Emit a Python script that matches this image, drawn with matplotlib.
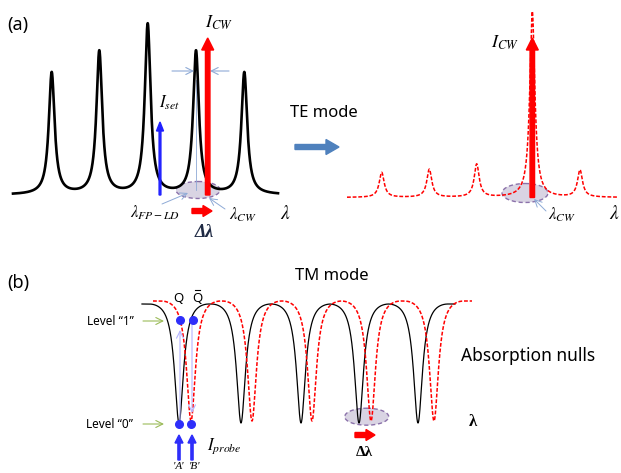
import numpy as np
import matplotlib.pyplot as plt
from matplotlib.patches import Ellipse

plt.rcParams['mathtext.fontset'] = 'stix'
plt.rcParams['font.family'] = ['Noto Sans', 'DejaVu Sans']

# panel (a) left: FP-LD modes (centre, height above baseline)
fp_x = [51.7, 99.3, 147.7, 196.0, 244.3]
fp_h = [122, 143, 170, 143, 122]
fp_base = 195

# panel (a) right: after injection locking (TE mode)
te_x = [381.7, 429.3, 476.7, 532.3, 580.0]
te_h = [25, 28, 33, 186, 27]
te_base = 197.5

# panel (b): absorption nulls (TM mode)
tm_black_dips = [179, 241, 301, 359, 418]
tm_red_dips = [191, 252, 312, 371, 434]


def lorentz_sum(x, centres, heights, w):
    y = np.zeros_like(x)
    for c, h in zip(centres, heights):
        y += h * w ** 2 / ((x - c) ** 2 + w ** 2)
    return y


def dip_curve(x, dips, top, bottom, period=60, F=12):
    d = np.min(np.abs(x[:, None] - np.array(dips)[None, :]), axis=1)
    d = np.minimum(d, period / 2)
    g = 1 / (1 + F * np.sin(np.pi * d / period) ** 2)
    gmin = 1 / (1 + F)
    return top + (bottom - top) * (g - gmin) / (1 - gmin)


def arrow(x0, y0, x1, y1, color, lw=0.8, hl=5, hw=2.5):
    ax.annotate('', xy=(x1, y1), xytext=(x0, y0),
                arrowprops=dict(arrowstyle=f'->,head_length={hl / 10},head_width={hw / 10}',
                                color=color, lw=lw, shrinkA=0, shrinkB=0))


fig = plt.figure(figsize=(6.21, 4.73), dpi=100)
ax = fig.add_axes([0, 0, 1, 1])
ax.set_xlim(0, 621)
ax.set_ylim(473, 0)
ax.axis('off')

red = '#ff0000'
ell_face = '#d5d0e0'
ell_edge = '#8064a2'
pale = '#8eaad6'

# ---------- (a) left ----------
x = np.linspace(13, 278, 2000)
ax.plot(x, fp_base - lorentz_sum(x, fp_x, fp_h, 3.5), color='black', lw=1.9, zorder=3)
ax.add_patch(Ellipse((198, 190), 44, 17, facecolor=ell_face, edgecolor=ell_edge,
                     ls=(0, (3, 2)), lw=1, alpha=0.9, zorder=1))
ax.plot([196, 196], [80, 190], color=pale, lw=0.6, zorder=2)
ax.arrow(207.7, fp_base, 0, 38 - fp_base, width=4.5, head_width=12, head_length=12,
         length_includes_head=True, color=red, zorder=4)
ax.arrow(160, fp_base, 0, 122 - fp_base, width=1.8, head_width=7, head_length=9,
         length_includes_head=True, color='#2020ff', zorder=4)
arrow(172, 71, 194, 71, pale)
arrow(229, 71, 210, 71, pale)
arrow(162, 204, 188, 193, pale, lw=0.7)
arrow(225, 209, 209, 198, pale, lw=0.7)
ax.arrow(192, 211, 20, 0, width=5, head_width=11, head_length=9,
         length_includes_head=True, color=red, zorder=4)
ax.text(219, 23, r'$I_{CW}$', fontsize=13, ha='center', va='center')
ax.text(169, 103, r'$I_{set}$', fontsize=12, ha='center', va='center')
ax.text(155, 213, r'$\lambda_{FP-LD}$', fontsize=12, ha='center', va='center')
ax.text(243, 215, r'$\lambda_{CW}$', fontsize=12, ha='center', va='center')
ax.text(285, 214, r'$\lambda$', fontsize=14, ha='center', va='center')
ax.text(204, 232, 'Δλ', fontsize=13, ha='center', va='center', family='Liberation Serif',
        style='italic', weight='bold', color='#1f2a44')
ax.text(7, 25, '(a)', fontsize=13, ha='left', va='center')

# arrow between panels
ax.text(324, 113, 'TE mode', fontsize=12, ha='center', va='center')
ax.arrow(295, 147, 44, 0, width=5, head_width=15, head_length=13,
         length_includes_head=True, color='#4f81bd')

# ---------- (a) right ----------
x = np.linspace(347, 617, 2000)
ax.add_patch(Ellipse((525, 193), 46, 19, facecolor=ell_face, edgecolor=ell_edge,
                     ls=(0, (3, 2)), lw=1, alpha=0.9, zorder=1))
ax.arrow(532.3, te_base, 0, 38 - te_base, width=4.5, head_width=12, head_length=12,
         length_includes_head=True, color=red, zorder=3)
ax.plot(x, te_base - lorentz_sum(x, te_x, te_h, 3.0), color=red, lw=1.1,
        dashes=(2.5, 1.2), zorder=4)
arrow(546, 211, 534, 199, pale, lw=0.7)
ax.text(505, 43, r'$I_{CW}$', fontsize=13, ha='center', va='center')
ax.text(562, 215, r'$\lambda_{CW}$', fontsize=12, ha='center', va='center')
ax.text(609, 214, r'$\lambda$', fontsize=14, ha='left', va='center')

# ---------- (b) ----------
ax.text(7, 283, '(b)', fontsize=13, ha='left', va='center')
ax.text(332, 276, 'TM mode', fontsize=12, ha='center', va='center')
ax.text(528, 356, 'Absorption nulls', fontsize=12.5, ha='center', va='center')

x = np.linspace(142, 455, 2000)
ax.plot(x, dip_curve(x, tm_black_dips, 304, 423), color='black', lw=0.9, zorder=3)
x = np.linspace(153, 472, 2000)
ax.plot(x, dip_curve(x, tm_red_dips, 301, 421), color=red, lw=1.1,
        dashes=(2.5, 1.2), zorder=3)

ax.add_patch(Ellipse((366.7, 416.7), 44, 17, facecolor=ell_face, edgecolor=ell_edge,
                     ls=(0, (3, 2)), lw=1, alpha=0.9, zorder=1))
ax.arrow(355, 435, 20, 0, width=5, head_width=11, head_length=9,
         length_includes_head=True, color=red, zorder=4)
ax.text(364, 452, 'Δλ', fontsize=11, ha='center', va='center', family='Liberation Serif',
        weight='bold')
ax.text(473, 422, 'λ', fontsize=12, ha='center', va='center', family='Liberation Serif',
        weight='bold')

# probe transitions
lav = '#b4b4ff'
arrow(180, 422, 180, 330, lav, lw=0.8)
arrow(192, 322, 192, 413, lav, lw=0.8)
ax.scatter([180.3, 192.7, 179.3, 191], [320, 320, 424.3, 424.3], s=30,
           color='#2e2efa', zorder=5)
ax.text(178, 298, 'Q', fontsize=9.5, ha='center', va='center')
ax.text(197, 298, 'Q', fontsize=9.5, ha='center', va='center')
ax.plot([194.5, 199.5], [289.5, 289.5], color='black', lw=0.8)
ax.text(110, 321, 'Level “1”', fontsize=8.5, ha='center', va='center')
ax.text(110, 424, 'Level “0”', fontsize=8.5, ha='center', va='center')
arrow(143, 321, 164, 321, '#9bbb59', lw=0.8)
arrow(143, 424, 164, 424, '#9bbb59', lw=0.8)
for xa in (179, 192):
    ax.arrow(xa, 460, 0, -25, width=2.2, head_width=8, head_length=8,
             length_includes_head=True, color='#2e2efa')
ax.text(224, 446, r'$I_{probe}$', fontsize=12, ha='center', va='center')
ax.text(178, 466, "'A'", fontsize=8, ha='center', va='center', family='Liberation Serif',
        style='italic')
ax.text(194, 466, "'B'", fontsize=8, ha='center', va='center', family='Liberation Serif',
        style='italic')

fig.savefig('out.png', dpi=100)
